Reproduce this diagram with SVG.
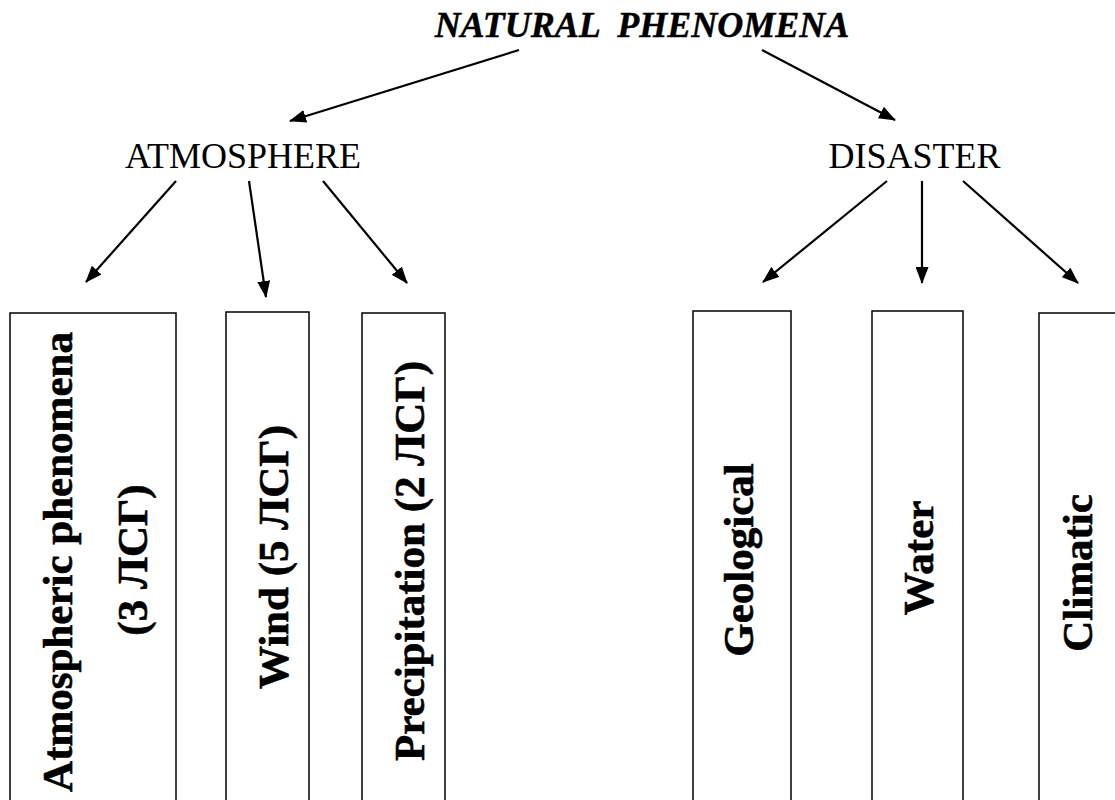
<svg xmlns="http://www.w3.org/2000/svg" width="1115" height="800" viewBox="0 0 1115 800">
<style>
  .lbl { font-family: "Liberation Serif", "Times New Roman", serif; font-size: 36px; fill: #000; }
  .title { font-weight: bold; font-style: italic; stroke: #000; stroke-width: 0.4; }
  .box { fill: #fff; stroke: #000; stroke-width: 1.5; }
  .vt { font-family: "Liberation Serif", "Times New Roman", serif; font-size: 43px; font-weight: bold; fill: #000; text-anchor: middle; stroke: #000; stroke-width: 0.6; }
  .conn line { stroke: #000; stroke-width: 2.2; marker-end: url(#arr); }
</style>
<defs>
  <marker id="arr" markerUnits="userSpaceOnUse" markerWidth="17" markerHeight="13" refX="16" refY="6.5" orient="auto" viewBox="0 0 17 13">
    <path d="M0,0 L17,6.5 L0,13 z" fill="#000"/>
  </marker>
</defs>
<rect width="1115" height="800" fill="#fff"/>

<g id="natural-phenomena">
  <text class="lbl title" x="642" y="37" text-anchor="middle" xml:space="preserve">NATURAL  PHENOMENA</text>
</g>
<g id="atmosphere">
  <text class="lbl" x="243" y="168" text-anchor="middle">ATMOSPHERE</text>
</g>
<g id="disaster">
  <text class="lbl" x="914.5" y="168" text-anchor="middle">DISASTER</text>
</g>

<g id="atmospheric-phenomena">
  <rect class="box" x="10" y="313" width="166" height="500"/>
  <text class="vt" transform="translate(72,562) rotate(-90)">Atmospheric phenomena</text>
  <text class="vt" transform="translate(147,560) rotate(-90)">(3 ЛСГ)</text>
</g>
<g id="wind">
  <rect class="box" x="226" y="312" width="83" height="500"/>
  <text class="vt" transform="translate(288,557) rotate(-90)">Wind (5 ЛСГ)</text>
</g>
<g id="precipitation">
  <rect class="box" x="362" y="313" width="83" height="500"/>
  <text class="vt" transform="translate(424,561) rotate(-90)">Precipitation (2 ЛСГ)</text>
</g>
<g id="geological">
  <rect class="box" x="693" y="311" width="98" height="500"/>
  <text class="vt" transform="translate(753,560) rotate(-90)">Geological</text>
</g>
<g id="water">
  <rect class="box" x="872" y="311" width="91" height="500"/>
  <text class="vt" transform="translate(933,558) rotate(-90)">Water</text>
</g>
<g id="climatic">
  <rect class="box" x="1039" y="313" width="100" height="500"/>
  <text class="vt" transform="translate(1092,573) rotate(-90)">Climatic</text>
</g>

<g id="connectors" class="conn">
  <line x1="519" y1="50" x2="290" y2="121"/>
  <line x1="762" y1="50" x2="895" y2="120"/>
  <line x1="176" y1="181" x2="86" y2="282"/>
  <line x1="249" y1="181" x2="266" y2="297"/>
  <line x1="323" y1="181" x2="407" y2="283"/>
  <line x1="887" y1="181" x2="763" y2="282"/>
  <line x1="922" y1="181" x2="922" y2="283"/>
  <line x1="963" y1="181" x2="1078" y2="283"/>
</g>
</svg>
